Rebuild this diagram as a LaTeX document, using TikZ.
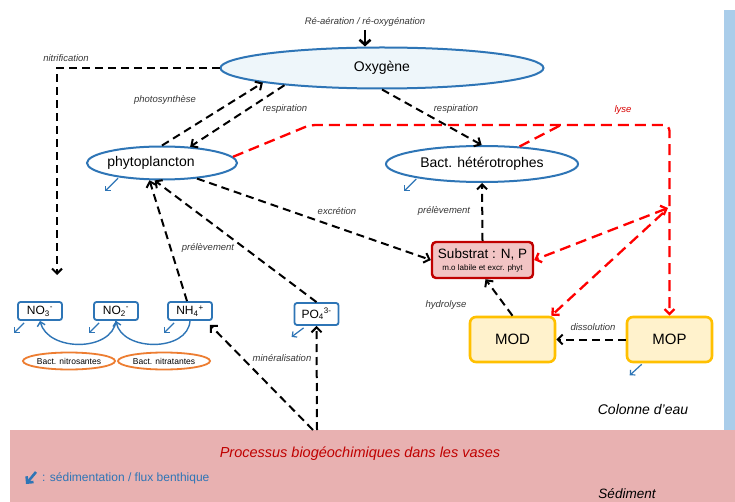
\documentclass[tikz,border=0pt]{standalone}
\usepackage{fontspec}
\setmainfont{Liberation Sans}
\usetikzlibrary{arrows.meta,shapes.geometric}
\definecolor{oblue}{HTML}{2E75B6}
\definecolor{oxyfill}{HTML}{EEF6FA}
\definecolor{subfill}{HTML}{F2C4C4}
\definecolor{subdraw}{HTML}{C00000}
\definecolor{mfill}{HTML}{FFF2CC}
\definecolor{mdraw}{HTML}{FFC000}
\definecolor{orng}{HTML}{ED7D31}
\definecolor{sedpink}{HTML}{E8B1B1}
\definecolor{stripblue}{HTML}{AACDEA}
\definecolor{lysered}{HTML}{FF0000}
\definecolor{labgray}{HTML}{383838}
\tikzset{
  ell/.style={ellipse, draw=oblue, line width=2pt, inner sep=0pt, font=\fontsize{14}{16}\selectfont},
  nbox/.style={draw=oblue, line width=1.8pt, rounded corners=2.5pt, fill=white, minimum width=44pt, minimum height=18pt, inner sep=0pt, font=\fontsize{12}{13}\selectfont},
  bell/.style={ellipse, draw=orng, line width=1.8pt, inner sep=0pt, minimum width=92pt, minimum height=17pt, font=\fontsize{8.5}{9}\selectfont},
  subbox/.style={draw=subdraw, fill=subfill, line width=2.4pt, rounded corners=4pt, minimum width=101pt, minimum height=36pt, inner sep=0pt, align=center, font=\fontsize{13.5}{14}\selectfont},
  mbox/.style={draw=mdraw, fill=mfill, line width=2.6pt, rounded corners=6pt, minimum width=85pt, minimum height=45pt, inner sep=0pt, font=\fontsize{15}{16}\selectfont},
  lab/.style={font=\fontsize{9.5}{11}\selectfont\itshape, text=labgray, inner sep=0pt},
  bk/.style={draw=black, line width=2pt, dash pattern=on 8pt off 5pt},
  rd/.style={draw=lysered, line width=2.3pt, dash pattern=on 11pt off 6pt},
  ar/.style={-{Straight Barb[length=5pt,width=10pt]}},
  sedar/.style={draw=oblue, line width=1.2pt, -{Straight Barb[length=3.5pt,width=7pt]}},
  bcurve/.style={draw=oblue, line width=1.4pt, -{Straight Barb[length=4pt,width=8pt]}}
}
\begin{document}
\begin{tikzpicture}[x=1pt,y=-1pt]
\useasboundingbox (0,0) rectangle (735,502);
\fill[white] (0,0) rectangle (735,502);
% background areas
\node[fill=stripblue, minimum width=11pt, minimum height=420pt, inner sep=0pt, anchor=north west] (strip) at (724,10) {};
\node[fill=sedpink, minimum width=725pt, minimum height=80pt, inner sep=0pt, anchor=north west] (sedbox) at (10,430) {};

% main nodes
\node[ell, fill=oxyfill, minimum width=323pt, minimum height=41pt] (oxy) at (382,68) {Oxygène};
\node[ell, fill=white, minimum width=150pt, minimum height=33pt] (phyto) at (162,163) {\hspace*{-22pt}phytoplancton};
\node[ell, fill=white, minimum width=192pt, minimum height=36pt] (bact) at (482,164) {Bact. hétérotrophes};
\node[subbox] (sub) at (482.5,260) {Substrat : N, P\\[-2pt]\fontsize{8}{9}\selectfont m.o labile et excr. phyt};
\node[mbox] (mod) at (512.5,339.5) {MOD};
\node[mbox] (mop) at (669.5,339.5) {MOP};
\node[nbox] (no3) at (40,311) {NO\textsubscript{3}\textsuperscript{-}};
\node[nbox] (no2) at (116,311) {NO\textsubscript{2}\textsuperscript{-}};
\node[nbox] (nh4) at (190,311) {NH\textsubscript{4}\textsuperscript{+}};
\node[nbox, minimum height=22pt] (po4) at (316.5,314) {PO\textsubscript{4}\textsuperscript{3-}};
\node[bell] (nitros) at (69,361) {Bact. nitrosantes};
\node[bell] (nitrat) at (164,361) {Bact. nitratantes};

% coordinates
\coordinate (reatop) at (365,30);
\coordinate (nitend) at (57,275);
\coordinate (lyseA) at (310,125);
\coordinate (lyseC) at (561,125);
\coordinate (lysejA) at (668,208);
\coordinate (lysejB) at (663,213);
\coordinate (minA) at (313,430);
\coordinate (minB) at (317,430);
\coordinate (legA) at (36,472);
\coordinate (legB) at (26,484);

% labels
\node[lab] (lreox) at (365,22) {Ré-aération / ré-oxygénation};
\node[lab] (lnitr) at (66,58) {nitrification};
\node[lab] (lphot) at (165,100) {photosynthèse};
\node[lab] (lresp1) at (285,109) {respiration};
\node[lab] (lresp2) at (456,109) {respiration};
\node[lab, text=lysered!85!black] (llyse) at (623,110) {lyse};
\node[lab] (lexcr) at (337,211) {excrétion};
\node[lab] (lprel2) at (444,211) {prélèvement};
\node[lab] (lprel1) at (208,248) {prélèvement};
\node[lab] (lmin) at (282,358) {minéralisation};
\node[lab] (lhydr) at (446,305) {hydrolyse};
\node[lab] (ldiss) at (593,327) {dissolution};
\node[font=\fontsize{14}{16}\selectfont\itshape, inner sep=0pt] (lcol) at (643,409) {Colonne d’eau};
\node[font=\fontsize{13.5}{15}\selectfont\itshape, inner sep=0pt] (lsed) at (627,494) {Sédiment};
\node[font=\fontsize{14.5}{16}\selectfont\itshape, text=subdraw, inner sep=0pt] (lproc) at (360,454) {Processus biogéochimiques dans les vases};
\node[font=\fontsize{12}{13}\selectfont, text=oblue, inner sep=0pt, anchor=west] (lleg) at (42,478) {: sédimentation / flux benthique};

% re-aeration
\draw[line width=2.6pt, -{Straight Barb[length=5pt,width=11pt]}] (reatop) -- (oxy.north -| reatop);

% black dashed connectors
\draw[bk, ar] (oxy.west) -| (nitend);
\draw[bk, ar] (phyto.north) -- (oxy.187);
\draw[bk, ar] (oxy.190) -- (phyto.30);
\draw[bk, ar] (oxy.south) -- (bact.91);
\draw[bk, ar] (phyto.336) -- (sub.west);
\draw[bk, ar] (sub.north) -- (bact.south);
\draw[bk, ar] (mod.north) -- ([xshift=3pt]sub.south);
\draw[bk, ar] (mop.west) -- (mod.east);
\draw[bk, ar] ([xshift=-3pt]nh4.north) -- (phyto.234);
\draw[bk, ar] (po4.north) -- (phyto.247);
\draw[bk, ar] (minA) -- ([xshift=-3pt,yshift=-4pt]nh4.south east);
\draw[bk, ar] (minB) -- (po4.south);

% red dashed (lyse)
\draw[rd, ar, rounded corners=6pt] (phyto.5) -- (lyseA) -| (mop.north);
\draw[rd] (bact.25) -- (lyseC);
\draw[rd, {Straight Barb[length=5pt,width=10pt]}-{Straight Barb[length=5pt,width=10pt]}] (lysejA) -- (sub.east);
\draw[rd, ar] (lysejB) -- ([xshift=-5pt]mod.north east);

% nitrification cycle curves
\draw[bcurve] (no2.south) .. controls (112,352) and (48,352) .. (no3.south);
\draw[bcurve] (nh4.south) .. controls (188,352) and (122,352) .. (no2.south);

% sedimentation arrows
\draw[sedar] ([shift={(7,2)}]no3.south west) -- ++(-10,10);
\draw[sedar] ([shift={(6,2)}]no2.south west) -- ++(-10,10);
\draw[sedar] ([shift={(7,2)}]nh4.south west) -- ++(-10,10);
\draw[sedar] ([shift={(10,2)}]po4.south west) -- ++(-12,9);
\draw[sedar] ([yshift=-1pt]phyto.198) -- ++(-13,13);
\draw[sedar] ([yshift=-1pt]bact.192) -- ++(-12,12);
\draw[sedar] ([shift={(16,1)}]mop.south west) -- ++(-12,11);

% legend arrow
\draw[draw=oblue, line width=2.6pt, -{Straight Barb[length=4.5pt,width=9pt]}] (legA) -- (legB);
\end{tikzpicture}
\end{document}
